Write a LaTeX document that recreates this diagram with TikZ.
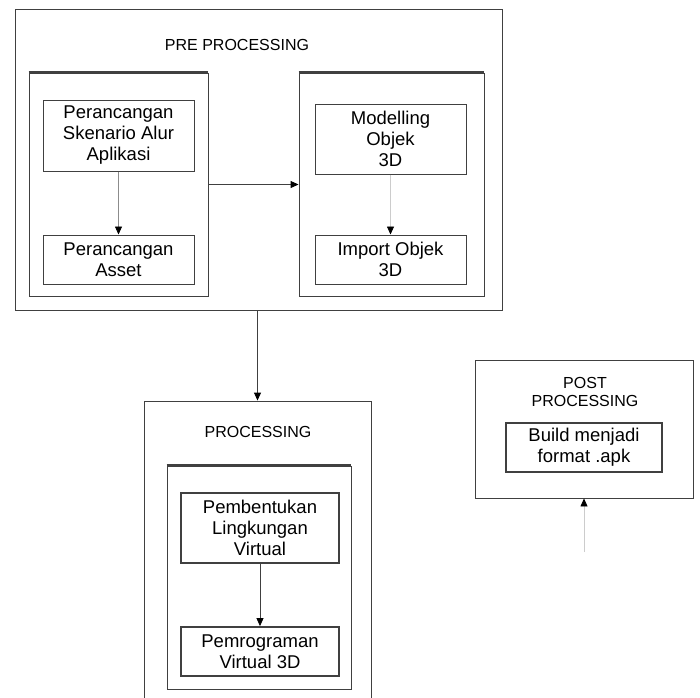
\documentclass[tikz,border=0pt]{standalone}
\usepackage{fontspec}
\setmainfont{Liberation Sans}
\usetikzlibrary{arrows.meta}
\definecolor{linecol}{gray}{0.25}
\definecolor{softline}{gray}{0.55}
\definecolor{paleline}{gray}{0.8}
\tikzset{
  frame/.style={draw=linecol, line width=1pt, minimum width=#1},
  container/.style={draw=linecol, line width=0.9pt},
  box/.style={draw=linecol, line width=1pt, align=center, inner sep=0pt,
    font=\fontsize{18.5}{21}\selectfont},
  thickbox/.style={box, line width=1.8pt},
  title/.style={align=center, inner sep=0pt, font=\fontsize{16}{18}\selectfont},
  tip/.style={-{Triangle[length=8pt,width=7pt,color=black]}},
}
\begin{document}
\begin{tikzpicture}[x=1pt,y=-1pt]
\clip (0,0) rectangle (700,697);
\fill[white] (0,0) rectangle (700,697);
% PRE PROCESSING
\node[container, minimum width=487pt, minimum height=301pt] (pre) at (258.5,159.5) {};
\node[title] (preT) at (237,45) {PRE PROCESSING};
\node[container, minimum width=179pt, minimum height=223pt] (linner) at (118.5,184.5) {};
\draw[linecol, line width=2.2pt] (linner.north west) -- (linner.north east);
\node[box, minimum width=151pt, minimum height=71pt] (b1) at (118.5,135.5) {Perancangan\\Skenario Alur\\Aplikasi};
\node[box, minimum width=151pt, minimum height=49pt] (b2) at (118.5,259.5) {Perancangan\\Asset};
\node[container, minimum width=185pt, minimum height=223pt] (rinner) at (391.5,184.5) {};
\draw[linecol, line width=2.2pt] (rinner.north west) -- (rinner.north east);
\node[box, minimum width=151pt, minimum height=70pt] (b3) at (390.5,139) {Modelling\\Objek\\3D};
\node[box, minimum width=151pt, minimum height=49pt] (b4) at (390.5,259.5) {Import Objek\\3D};
\draw[softline, line width=0.8pt, tip] (b1) -- (b2);
\draw[paleline, line width=0.8pt, tip] (b3) -- (b4);
\draw[linecol, line width=1pt, tip] (linner.east) -- (rinner.west);
% PROCESSING
\node[container, minimum width=227pt, minimum height=309pt] (proc) at (257.5,555.5) {};
\node[title] (procT) at (258,432) {PROCESSING};
\node[container, minimum width=184pt, minimum height=223pt] (pinner) at (259,577.5) {};
\draw[linecol, line width=2.2pt] (pinner.north west) -- (pinner.north east);
\node[thickbox, minimum width=158pt, minimum height=70pt] (b5) at (260,528) {Pembentukan\\Lingkungan\\Virtual};
\node[thickbox, minimum width=158pt, minimum height=49pt] (b6) at (260,651.5) {Pemrograman\\Virtual 3D};
\draw[linecol, line width=0.8pt, tip] (b5) -- (b6);
\draw[linecol, line width=1pt, tip] (proc.north |- pre.south) -- (proc.north);
% POST PROCESSING
\node[container, minimum width=218pt, minimum height=138pt] (post) at (584,429) {};
\node[title] (postT) at (585,392) {POST\\PROCESSING};
\node[thickbox, minimum width=156pt, minimum height=49pt] (b7) at (584,447.5) {Build menjadi\\format .apk};
\coordinate (tail) at (584,552);
\draw[paleline, line width=0.8pt, tip] (tail) -- (post.south);
\end{tikzpicture}
\end{document}
